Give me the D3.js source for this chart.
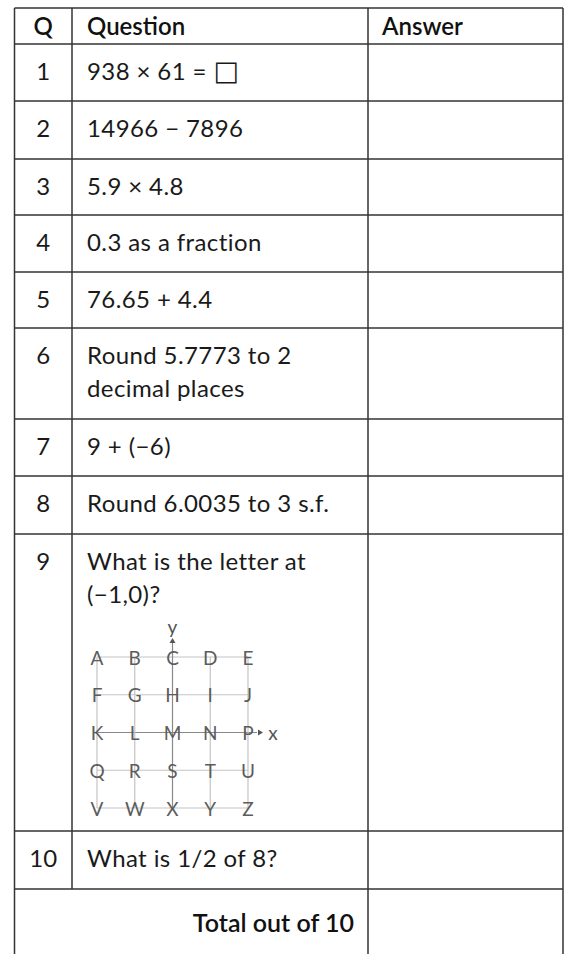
<!DOCTYPE html>
<html>
<head>
<meta charset="utf-8">
<script src="https://cdn.jsdelivr.net/npm/d3@7"></script>
<style>
  body { margin: 0; background: #fff; }
  text { font-family: Lato, "Noto Sans", sans-serif; }
</style>
</head>
<body>
<script>
// table content
var headers = ["Q", "Question", "Answer"]
var qNumbers = ["1", "2", "3", "4", "5", "6", "7", "8", "9", "10"]
var questions = [
  ["938 × 61 = □"],
  ["14966 − 7896"],
  ["5.9 × 4.8"],
  ["0.3 as a fraction"],
  ["76.65 + 4.4"],
  ["Round 5.7773 to 2", "decimal places"],
  ["9 + (−6)"],
  ["Round 6.0035 to 3 s.f."],
  ["What is the letter at", "(−1,0)?"],
  ["What is 1/2 of 8?"]
]
var totalLabel = "Total out of 10"

// letter grid for question 9, top row first
var gridRows = ["ABCDE", "FGHIJ", "KLMNP", "QRSTU", "VWXYZ"]
var gridCoords = [-2, -1, 0, 1, 2]

var w = 566
var h = 954

// column and row edges of the table
var colEdges = [14.5, 72, 368, 563]
var rowEdges = [8, 44, 101, 159, 215, 272, 328, 419, 476, 534, 831, 889, 956]

var svg = d3.select("body")
            .append("svg")
            .attr("width", w)
            .attr("height", h)

var lineColor = "#333"
var textColor = "#1a1a1a"
var g = svg.append("g")

// horizontal rules
g.selectAll("line.h")
  .data(rowEdges.slice(0, -1))
  .enter()
  .append("line")
  .attr("class", "h")
  .attr("x1", colEdges[0])
  .attr("x2", colEdges[3])
  .attr("y1", d => d)
  .attr("y2", d => d)
  .attr("stroke", lineColor)
  .attr("stroke-width", 1.5)

// vertical rules (Q column line stops above total row)
var vLines = [
  {x: colEdges[0], y1: rowEdges[0], y2: h},
  {x: colEdges[1], y1: rowEdges[0], y2: rowEdges[11]},
  {x: colEdges[2], y1: rowEdges[0], y2: h},
  {x: colEdges[3], y1: rowEdges[0], y2: h}
]
g.selectAll("line.v")
  .data(vLines)
  .enter()
  .append("line")
  .attr("class", "v")
  .attr("x1", d => d.x)
  .attr("x2", d => d.x)
  .attr("y1", d => d.y1)
  .attr("y2", d => d.y2)
  .attr("stroke", lineColor)
  .attr("stroke-width", 1.5)

var qCenter = (colEdges[0] + colEdges[1]) / 2

// header
var headX = [qCenter, 87, 382]
svg.selectAll("text.head")
  .data(headers)
  .enter()
  .append("text")
  .attr("class", "head")
  .attr("x", (d, i) => headX[i])
  .attr("y", 35)
  .attr("text-anchor", (d, i) => i === 0 ? "middle" : "start")
  .attr("font-size", 24)
  .attr("font-weight", 600)
  .attr("fill", "#111")
  .text(d => d)

// question rows
var rows = svg.selectAll("g.row")
  .data(questions)
  .enter()
  .append("g")
  .attr("class", "row")
  .attr("transform", (d, i) => "translate(0," + rowEdges[i + 1] + ")")

rows.append("text")
  .text((d, i) => qNumbers[i])
  .attr("x", qCenter)
  .attr("y", 36)
  .attr("text-anchor", "middle")
  .attr("font-size", 24)
  .attr("fill", textColor)

var qText = rows.append("text")
  .attr("font-size", 24)
  .attr("letter-spacing", 0.4)
  .attr("fill", textColor)

qText.selectAll("tspan.line")
  .data(d => d)
  .enter()
  .append("tspan")
  .attr("class", "line")
  .attr("x", 87)
  .attr("y", (d, i) => 36 + i * 33)
  .each(function (d) {
    // the answer box glyph is set in a font that has it
    var parts = d.split("□")
    var t = d3.select(this)
    parts.forEach(function (p, k) {
      t.append("tspan").text(p)
      if (k < parts.length - 1) {
        t.append("tspan").text("□")
          .attr("font-family", "DejaVu Sans")
          .attr("font-size", 27)
      }
    })
  })

// total row
svg.append("text").text(totalLabel)
  .attr("x", 354).attr("y", 932).attr("text-anchor", "end")
  .attr("font-size", 25).attr("font-weight", 600).attr("fill", "#111")

// coordinate grid in question 9
var xScale = d3.scalePoint().domain(gridCoords).range([97, 248])
var yScale = d3.scalePoint().domain(gridCoords.slice().reverse()).range([657, 808])

var grid = svg.append("g")
var gridColor = "#c4c4c4"
var axisColor = "#888"

grid.selectAll("line.gx")
  .data(gridCoords)
  .enter()
  .append("line")
  .attr("x1", xScale(-2))
  .attr("x2", d => d === 0 ? xScale(2) + 9 : xScale(2))
  .attr("y1", d => yScale(d))
  .attr("y2", d => yScale(d))
  .attr("stroke", d => d === 0 ? axisColor : gridColor)
  .attr("stroke-width", 1.2)

grid.selectAll("line.gy")
  .data(gridCoords)
  .enter()
  .append("line")
  .attr("x1", d => xScale(d))
  .attr("x2", d => xScale(d))
  .attr("y1", d => d === 0 ? yScale(2) - 14 : yScale(2))
  .attr("y2", yScale(-2))
  .attr("stroke", d => d === 0 ? axisColor : gridColor)
  .attr("stroke-width", 1.2)

// axis arrow heads
grid.append("path")
  .attr("d", "M" + (xScale(2) + 10) + "," + (yScale(0) - 3) + " L" + (xScale(2) + 15) + "," + yScale(0) + " L" + (xScale(2) + 10) + "," + (yScale(0) + 3) + "Z")
  .attr("fill", "#555")
grid.append("path")
  .attr("d", "M" + (xScale(0) - 3) + "," + (yScale(2) - 14) + " L" + xScale(0) + "," + (yScale(2) - 19) + " L" + (xScale(0) + 3) + "," + (yScale(2) - 14) + "Z")
  .attr("fill", "#555")

grid.append("text").text("x")
  .attr("x", xScale(2) + 25).attr("y", yScale(0))
  .attr("dominant-baseline", "central").attr("text-anchor", "middle")
  .attr("font-size", 19).attr("fill", "#555")
grid.append("text").text("y")
  .attr("x", xScale(0)).attr("y", yScale(2) - 31)
  .attr("dominant-baseline", "central").attr("text-anchor", "middle")
  .attr("font-size", 19).attr("fill", "#555")

var letters = []
gridRows.forEach(function (row, r) {
  row.split("").forEach(function (ch, c) {
    letters.push({ch: ch, x: gridCoords[c], y: gridCoords[4 - r]})
  })
})

grid.selectAll("text.letter")
  .data(letters)
  .enter()
  .append("text")
  .attr("class", "letter")
  .attr("x", d => xScale(d.x))
  .attr("y", d => yScale(d.y))
  .attr("dominant-baseline", "central")
  .attr("text-anchor", "middle")
  .attr("font-size", 19)
  .attr("fill", "#5c5c5c")
  .text(d => d.ch)
</script>
</body>
</html>
